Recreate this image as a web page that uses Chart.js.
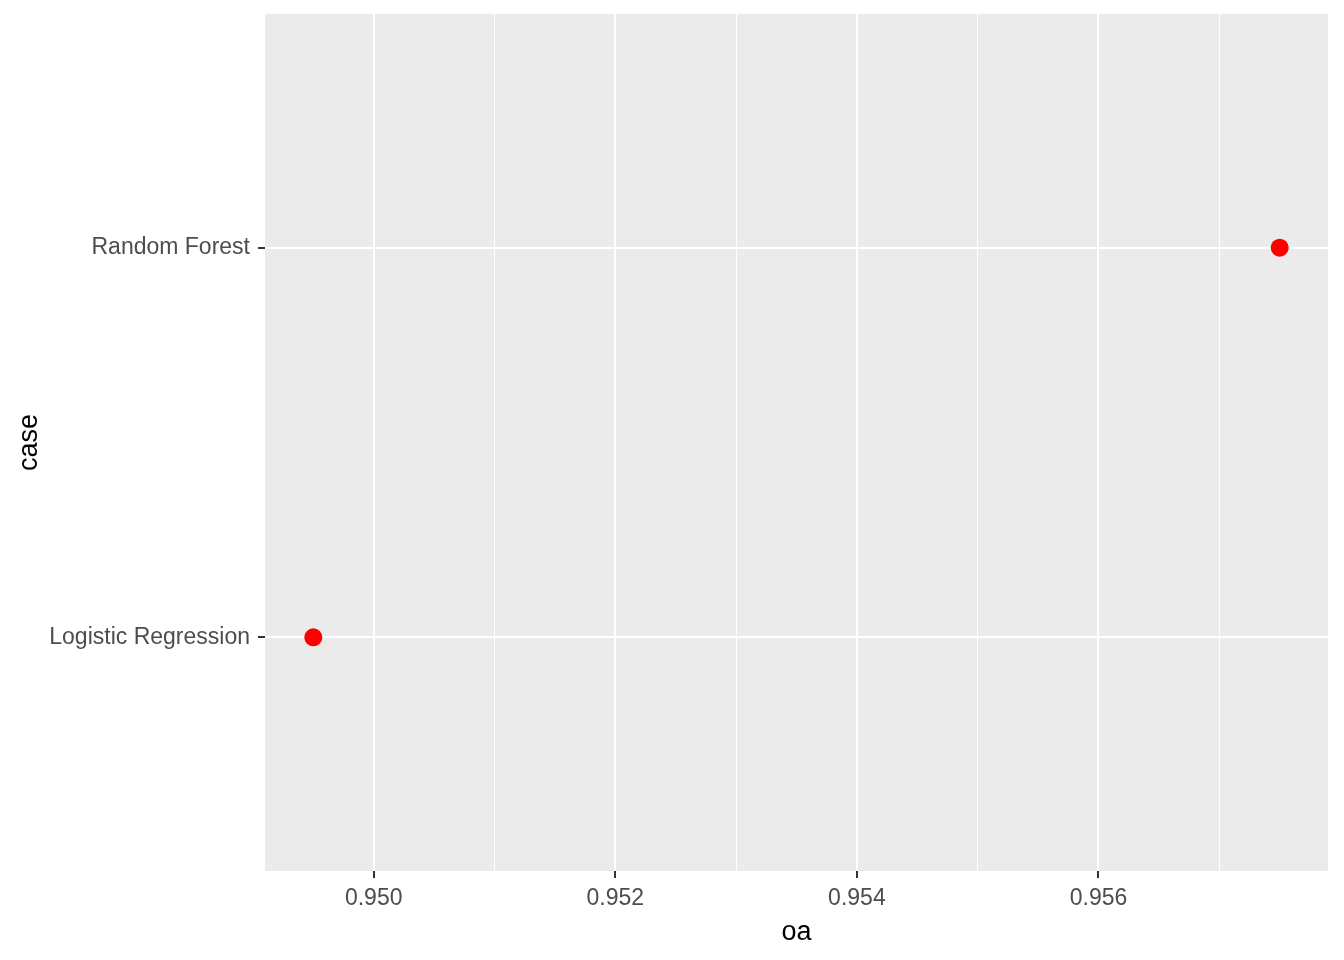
<!DOCTYPE html>
<html>
<head>
<meta charset="utf-8">
<script src="https://cdn.jsdelivr.net/npm/chart.js@4/dist/chart.umd.min.js"></script>
<style>
html,body{margin:0;padding:0;background:#fff;}
#wrap{width:1344px;height:960px;}
</style>
</head>
<body>
<div id="wrap"><canvas id="c" width="1344" height="960"></canvas></div>
<script>
const categories = ['Logistic Regression', 'Random Forest'];
const oaValues = [0.9495, 0.9575];
const xMajorTicks = [0.950, 0.952, 0.954, 0.956];
const xMinorTicks = [0.951, 0.953, 0.955, 0.957];
const xLimits = [0.9491, 0.9579];
const yLimits = [0.4, 2.6];

const FONT = "'Liberation Sans', Arial, sans-serif";
const isMajor = v => xMajorTicks.some(t => Math.abs(t - v) < 1e-7);

const panelBg = {
  id: 'panelBg',
  beforeDraw(chart) {
    const a = chart.chartArea, ctx = chart.ctx;
    ctx.save();
    ctx.fillStyle = '#EBEBEB';
    ctx.fillRect(a.left, a.top, a.right - a.left, a.bottom - a.top);
    ctx.restore();
  }
};

new Chart(document.getElementById('c'), {
  type: 'scatter',
  data: {
    datasets: [{
      data: categories.map((c, i) => ({x: oaValues[i], y: i + 1})),
      backgroundColor: '#FF0000',
      borderColor: '#FF0000',
      pointRadius: 9,
      pointHoverRadius: 9,
      borderWidth: 0
    }]
  },
  options: {
    responsive: false,
    animation: false,
    devicePixelRatio: 1,
    layout: {padding: {top: 14, right: 16, left: 0, bottom: 0}},
    plugins: {legend: {display: false}, tooltip: {enabled: false}},
    scales: {
      x: {
        type: 'linear',
        min: xLimits[0], max: xLimits[1],
        afterBuildTicks: s => { s.ticks = xMajorTicks.concat(xMinorTicks).sort((a,b)=>a-b).map(v => ({value: v})); },
        afterFit: s => { s.height = 89; s.paddingLeft = 0; s.paddingRight = 0; },
        border: {display: false},
        grid: {
          color: '#FFFFFF',
          lineWidth: ctx => isMajor(ctx.tick.value) ? 2 : 1,
          drawTicks: true,
          tickLength: 7,
          tickWidth: 2,
          tickColor: ctx => isMajor(ctx.tick.value) ? '#333333' : 'rgba(0,0,0,0)'
        },
        ticks: {
          autoSkip: false,
          maxRotation: 0,
          color: '#4D4D4D',
          font: {family: FONT, size: 23},
          padding: 7,
          callback: v => isMajor(v) ? v.toFixed(3) : ''
        },
        title: {
          display: true, text: 'oa', color: '#000000',
          font: {family: FONT, size: 27},
          padding: {top: 0, bottom: 11}
        }
      },
      y: {
        type: 'linear',
        min: yLimits[0], max: yLimits[1],
        afterBuildTicks: s => { s.ticks = categories.map((c, i) => ({value: i + 1})); },
        afterFit: s => { s.width = 265; s.paddingTop = 0; s.paddingBottom = 0; },
        border: {display: false},
        grid: {
          color: '#FFFFFF',
          lineWidth: 2,
          drawTicks: true,
          tickLength: 7,
          tickWidth: 2,
          tickColor: '#333333'
        },
        ticks: {
          autoSkip: false,
          color: '#4D4D4D',
          font: {family: FONT, size: 23},
          padding: 8,
          callback: v => categories[Math.round(v) - 1] || ''
        },
        title: {
          display: true, text: 'case', color: '#000000',
          font: {family: FONT, size: 27},
          padding: {top: 13, bottom: 0}
        }
      }
    }
  },
  plugins: [panelBg]
});
</script>
</body>
</html>
